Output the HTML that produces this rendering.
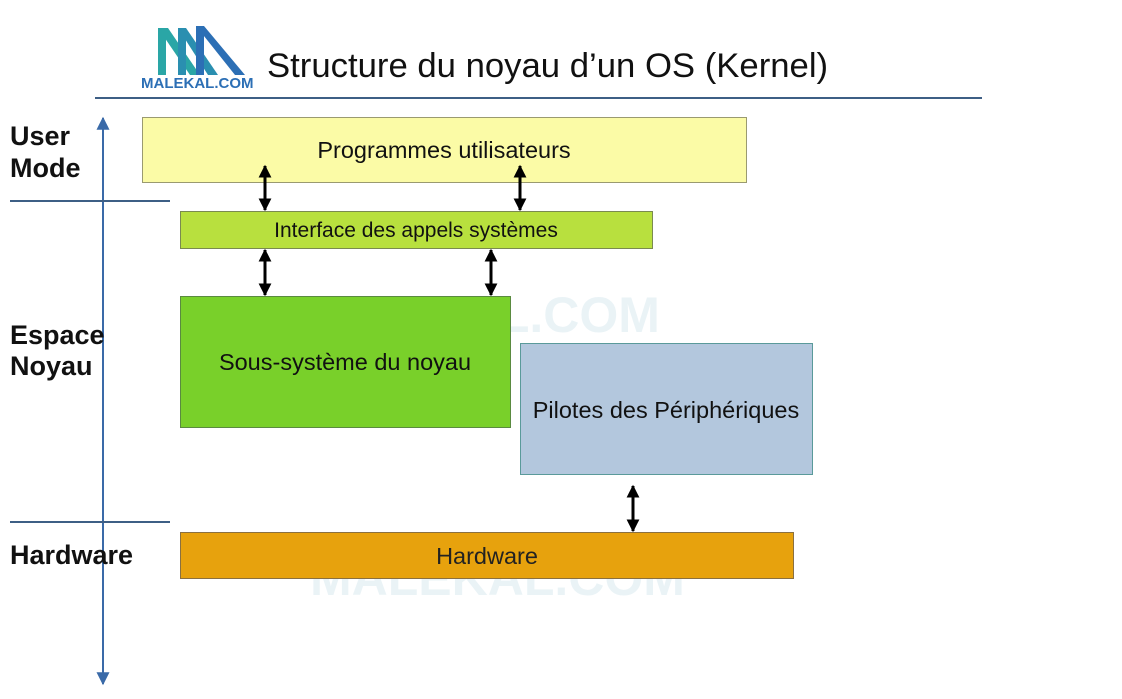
<!DOCTYPE html>
<html><head><meta charset="utf-8"><style>
html,body{margin:0;padding:0;background:#fff;width:1122px;height:699px;overflow:hidden}
svg{display:block;font-family:"Liberation Sans",sans-serif}
</style></head><body>
<svg width="1122" height="699" viewBox="0 0 1122 699">
<defs>
<marker id="bk" viewBox="0 0 10 10" refX="9" refY="5" markerWidth="13" markerHeight="14" markerUnits="userSpaceOnUse" orient="auto-start-reverse"><path d="M0,0L10,5L0,10z" fill="#000"/></marker>
<marker id="bl" viewBox="0 0 10 10" refX="9" refY="5" markerWidth="15" markerHeight="13" markerUnits="userSpaceOnUse" orient="auto-start-reverse"><path d="M0,0L10,5L0,10z" fill="#3a6aa8"/></marker>
</defs>
<!-- logo -->
<g>
<polygon points="158,28 168,28 200,75 190,75" fill="#2aa6a6"/>
<polygon points="158,28 166,28 166,75 158,75" fill="#2aa6a6"/>
<polygon points="178,28 186,28 218,75 208,75" fill="#2a8fb0"/>
<polygon points="178,28 186,28 186,75 178,75" fill="#2a8fb0"/>
<polygon points="196,26 204,26 245,75 235,75" fill="#2c6fb5"/>
<polygon points="196,26 204,26 204,75 196,75" fill="#2c6fb5"/>
<text x="141" y="88" font-size="15" font-weight="bold" fill="#2c6fb5">MALEKAL.COM</text>
</g>
<text x="267" y="77" font-size="34.7" fill="#111">Structure du noyau d’un OS (Kernel)</text>
<line x1="95" y1="98" x2="982" y2="98" stroke="#3e5f85" stroke-width="2"/>
<!-- watermark -->
<g opacity="0.1" fill="#3a8fb0">
<text x="285" y="332" font-size="50" font-weight="bold">MALEKAL.COM</text>
<text x="310" y="595" font-size="50" font-weight="bold">MALEKAL.COM</text>
</g>
<!-- axis -->
<line x1="103" y1="118" x2="103" y2="684" stroke="#3a6aa8" stroke-width="2" marker-start="url(#bl)" marker-end="url(#bl)"/>
<line x1="10" y1="201" x2="170" y2="201" stroke="#3e5f85" stroke-width="2"/>
<line x1="10" y1="522" x2="170" y2="522" stroke="#3e5f85" stroke-width="2"/>
<g font-size="27" font-weight="bold" fill="#111">
<text x="10" y="145">User</text><text x="10" y="177">Mode</text>
<text x="10" y="344">Espace</text><text x="10" y="375">Noyau</text>
<text x="10" y="564">Hardware</text>
</g>
<!-- boxes -->
<rect x="142.5" y="117.5" width="604" height="65" fill="#fbfba6" stroke="#9a9a70"/>
<text x="444" y="158" font-size="23.5" text-anchor="middle" fill="#111">Programmes utilisateurs</text>
<rect x="180.5" y="211.5" width="472" height="37" fill="#b8e03e" stroke="#7a8a50"/>
<text x="416" y="237" font-size="21" text-anchor="middle" fill="#111">Interface des appels systèmes</text>
<rect x="180.5" y="296.5" width="330" height="131" fill="#79d02a" stroke="#5a8a40"/>
<text x="345" y="370" font-size="23.5" text-anchor="middle" fill="#111">Sous-système du noyau</text>
<rect x="520.5" y="343.5" width="292" height="131" fill="#b3c7dd" stroke="#5a9a9a"/>
<text x="666" y="418" font-size="23.5" text-anchor="middle" fill="#111">Pilotes des Périphériques</text>
<rect x="180.5" y="532.5" width="613" height="46" fill="#e7a20d" stroke="#8a7040"/>
<text x="487" y="564" font-size="23.5" text-anchor="middle" fill="#222">Hardware</text>
<!-- arrows -->
<g stroke="#000" stroke-width="3" marker-start="url(#bk)" marker-end="url(#bk)">
<line x1="265" y1="166" x2="265" y2="210"/>
<line x1="520" y1="166" x2="520" y2="210"/>
<line x1="265" y1="250" x2="265" y2="295"/>
<line x1="491" y1="250" x2="491" y2="295"/>
<line x1="633" y1="486" x2="633" y2="531"/>
</g>
</svg>
</body></html>
